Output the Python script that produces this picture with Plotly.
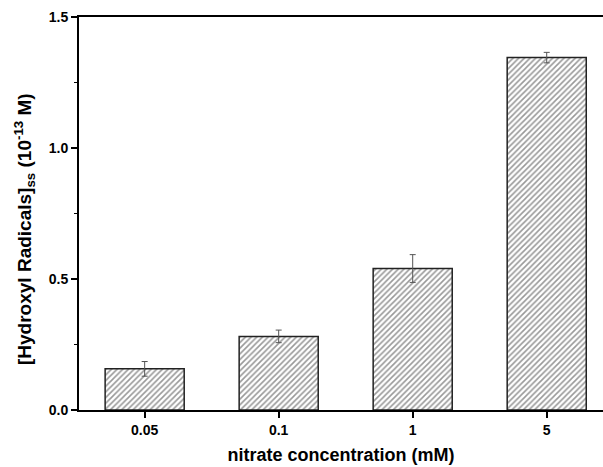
import plotly.graph_objects as go

categories = ["0.05", "0.1", "1", "5"]
values = [0.157, 0.281, 0.540, 1.345]
errors = [0.028, 0.024, 0.053, 0.020]

W, H = 603, 467
ML, MR, MT, MB = 79, 0, 17, 57

fig = go.Figure()
fig.add_trace(go.Bar(
    x=categories,
    y=values,
    width=0.59,
    error_y=dict(type="data", array=errors, visible=True, color="#555555", thickness=1, width=3),
    marker=dict(
        color="white",
        line=dict(color="#222222", width=1.5),
        pattern=dict(shape="/", size=4, solidity=0.4, fgcolor="#333333", bgcolor="white"),
    ),
    showlegend=False,
))

font_family = "Liberation Sans, Arial, sans-serif"
fig.update_layout(
    width=W,
    height=H,
    margin=dict(l=ML, r=MR, t=MT, b=MB, autoexpand=False),
    plot_bgcolor="white",
    paper_bgcolor="white",
    font=dict(family=font_family, color="black"),
    xaxis=dict(
        type="category",
        range=[-0.49, 3.42],
        showline=True,
        linecolor="black",
        linewidth=2,
        mirror=True,
        ticks="outside",
        ticklen=6,
        tickwidth=1.5,
        tickcolor="black",
        tickfont=dict(size=14, family=font_family, weight="bold"),
        title=dict(text="<b>nitrate concentration (mM)</b>", font=dict(size=18), standoff=12),
        showgrid=False,
        zeroline=False,
        automargin=False,
    ),
    yaxis=dict(
        range=[0, 1.5],
        tickvals=[0, 0.5, 1.0, 1.5],
        ticktext=["0.0", "0.5", "1.0", "1.5"],
        showline=True,
        linecolor="black",
        linewidth=2,
        ticks="outside",
        ticklen=6,
        tickwidth=1.5,
        tickcolor="black",
        minor=dict(tickvals=[0.25, 0.75, 1.25], ticks="outside", ticklen=3, tickwidth=1.2, tickcolor="black"),
        tickfont=dict(size=14, family=font_family, weight="bold"),
        showgrid=False,
        zeroline=False,
        automargin=False,
    ),
)

plot_w = W - ML - MR
plot_h = H - MT - MB
fig.add_annotation(
    text="<b>[Hydroxyl Radicals]<sub>ss</sub> (10<sup>-13</sup> M)</b>",
    xref="paper", yref="paper",
    x=(25 - ML) / plot_w, y=(H - MB - 229) / plot_h,
    xanchor="center", yanchor="middle",
    textangle=-90,
    showarrow=False,
    font=dict(size=19, family=font_family, color="black"),
)

fig.write_html(
    "out.html",
    config={"displayModeBar": False},
    post_script="document.body.style.margin='0';document.body.style.padding='0';",
)
